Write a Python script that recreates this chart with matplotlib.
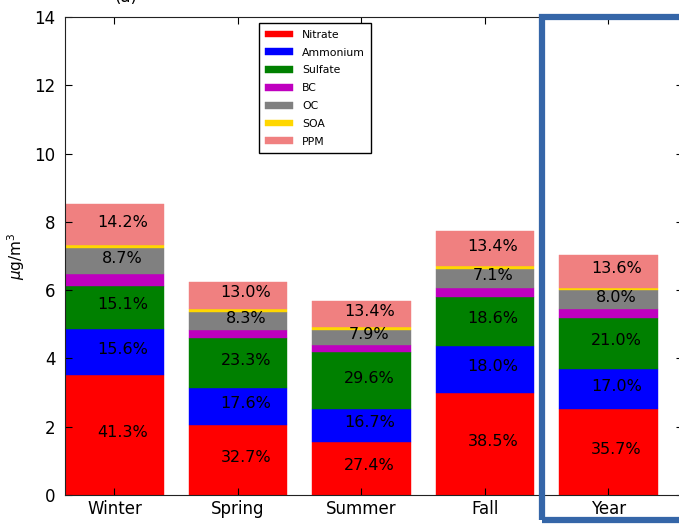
import matplotlib
matplotlib.use("Agg")
import matplotlib.pyplot as plt
from matplotlib.patches import Rectangle
import numpy as np

seasons = ["Winter", "Spring", "Summer", "Fall", "Year"]
species = ["Nitrate", "Ammonium", "Sulfate", "BC", "OC", "SOA", "PPM"]
colors = ["#ff0000", "#0000ff", "#008000", "#bf00bf", "#808080", "#ffd700", "#f08080"]

# total mass per bar (ug/m3)
totals = [8.52, 6.25, 5.68, 7.73, 7.03]

# share of each species in percent
nitrate = [41.3, 32.7, 27.4, 38.5, 35.7]
ammonium = [15.6, 17.6, 16.7, 18.0, 17.0]
sulfate = [15.1, 23.3, 29.6, 18.6, 21.0]
bc = [4.1, 3.9, 3.6, 3.4, 3.6]
oc = [8.7, 8.3, 7.9, 7.1, 8.0]
soa = [1.0, 1.2, 1.4, 1.0, 1.1]
ppm = [14.2, 13.0, 13.4, 13.4, 13.6]

shares = [nitrate, ammonium, sulfate, bc, oc, soa, ppm]
labelled = ["Nitrate", "Ammonium", "Sulfate", "OC", "PPM"]

fig = plt.figure(figsize=(6.79, 5.25), dpi=100)
ax = fig.add_axes([65 / 679, 30 / 525, 617.5 / 679, 478 / 525])

x = np.arange(len(seasons))
bottom = np.zeros(len(seasons))
for name, pct, col in zip(species, shares, colors):
    vals = np.array(totals) * np.array(pct) / 100.0
    ax.bar(x, vals, 0.8, bottom=bottom, color=col, edgecolor=col, linewidth=0.3, label=name)
    if name in labelled:
        for xi, b, v, p in zip(x, bottom, vals, pct):
            ax.text(xi + 0.065, b + v / 2 + 0.08, "%.1f%%" % p, ha="center", va="center", fontsize=11.5)
    bottom += vals

ax.set_xlim(-0.4, 4.6)
ax.set_ylim(0, 14)
ax.set_yticks(range(0, 15, 2))
ax.set_xticks(x)
ax.set_xticklabels(seasons)
ax.tick_params(direction="in", top=True, right=True, labelsize=12, length=5)
ax.tick_params(axis="y", pad=7)
ax.set_ylabel(r"$\mu$g/m$^3$", fontsize=11, labelpad=5)
for s in ax.spines.values():
    s.set_color("#222222")

ax.legend(loc="upper center", bbox_to_anchor=(0.405, 0.998), fontsize=7.8,
          fancybox=False, edgecolor="black", handlelength=2.6, handleheight=0.6,
          labelspacing=0.72, borderpad=0.6, framealpha=1)

fig.text(126 / 679, 1.005, "(a)", ha="center", va="center", fontsize=12)

fig.add_artist(Rectangle((542 / 679, 5 / 525), 145 / 679, 503 / 525, transform=fig.transFigure,
                         fill=False, edgecolor="#3566a8", linewidth=4.5, clip_on=False))

fig.savefig("out.png", dpi=100)
